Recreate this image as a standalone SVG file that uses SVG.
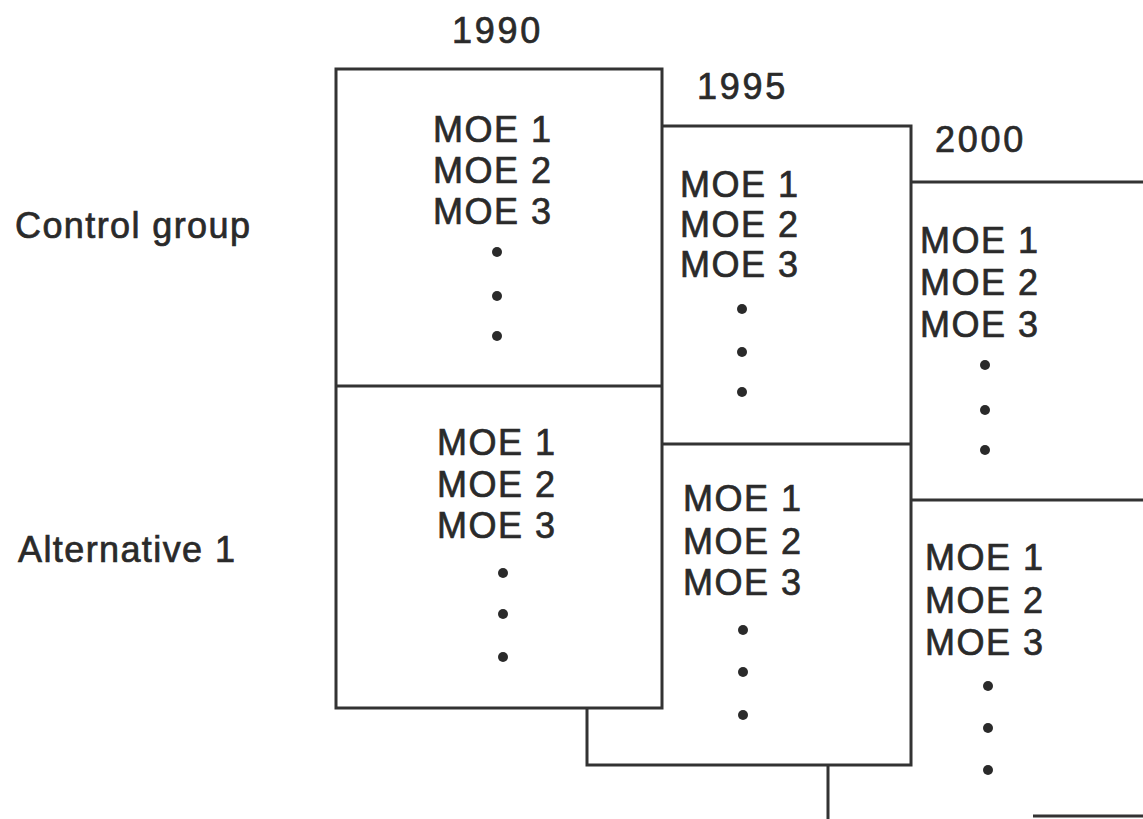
<svg xmlns="http://www.w3.org/2000/svg" width="1143" height="819" viewBox="0 0 1143 819">
<style>
.box{fill:#fff;stroke:#333;stroke-width:3}
.ln{stroke:#333;stroke-width:3;fill:none}
.t{font-family:"Liberation Sans",Arial,sans-serif;font-size:36px;fill:#2a2a2a;stroke:#2a2a2a;stroke-width:0.7px;letter-spacing:1.5px}
.yr{letter-spacing:2.7px}
.lab{letter-spacing:1.4px}
.d{fill:#2a2a2a}
</style>
<rect width="1143" height="819" fill="#fff"/>
<g id="row-labels">
<text class="t lab" x="15" y="238">Control group</text>
<text class="t lab" x="18" y="562">Alternative 1</text>
</g>
<g id="box-2000">
<rect class="box" x="828" y="182" width="330" height="660"/>
<line class="ln" x1="828" y1="500" x2="1143" y2="500"/>
<text class="t yr" x="935" y="152">2000</text>
<text class="t" x="920" y="253">MOE 1</text>
<text class="t" x="920" y="295">MOE 2</text>
<text class="t" x="920" y="337">MOE 3</text>
<circle class="d" cx="985" cy="365" r="5"/>
<circle class="d" cx="985" cy="410" r="5"/>
<circle class="d" cx="985" cy="450" r="5"/>
<text class="t" x="925" y="570">MOE 1</text>
<text class="t" x="925" y="613">MOE 2</text>
<text class="t" x="925" y="655">MOE 3</text>
<circle class="d" cx="988" cy="686" r="5"/>
<circle class="d" cx="988" cy="728" r="5"/>
<circle class="d" cx="988" cy="770" r="5"/>
</g>
<g id="box-1995">
<rect class="box" x="587" y="126" width="324" height="639"/>
<line class="ln" x1="587" y1="444" x2="911" y2="444"/>
<text class="t yr" x="697" y="99">1995</text>
<text class="t" x="680" y="197">MOE 1</text>
<text class="t" x="680" y="237">MOE 2</text>
<text class="t" x="680" y="277">MOE 3</text>
<circle class="d" cx="742" cy="309" r="5"/>
<circle class="d" cx="742" cy="352" r="5"/>
<circle class="d" cx="742" cy="392" r="5"/>
<text class="t" x="683" y="511">MOE 1</text>
<text class="t" x="683" y="554">MOE 2</text>
<text class="t" x="683" y="595">MOE 3</text>
<circle class="d" cx="743" cy="630" r="5"/>
<circle class="d" cx="743" cy="672" r="5"/>
<circle class="d" cx="743" cy="715" r="5"/>
</g>
<g id="box-1990">
<rect class="box" x="336" y="69" width="326" height="639"/>
<line class="ln" x1="336" y1="386" x2="662" y2="386"/>
<text class="t yr" x="452" y="43">1990</text>
<text class="t" x="433" y="142">MOE 1</text>
<text class="t" x="433" y="183">MOE 2</text>
<text class="t" x="433" y="224">MOE 3</text>
<circle class="d" cx="497" cy="252" r="5"/>
<circle class="d" cx="497" cy="296" r="5"/>
<circle class="d" cx="497" cy="336" r="5"/>
<text class="t" x="437" y="455">MOE 1</text>
<text class="t" x="437" y="497">MOE 2</text>
<text class="t" x="437" y="538">MOE 3</text>
<circle class="d" cx="503" cy="573" r="5"/>
<circle class="d" cx="503" cy="614" r="5"/>
<circle class="d" cx="503" cy="657" r="5"/>
</g>
<g id="connectors">
<line class="ln" x1="1033" y1="816" x2="1143" y2="816"/>
</g>
</svg>
